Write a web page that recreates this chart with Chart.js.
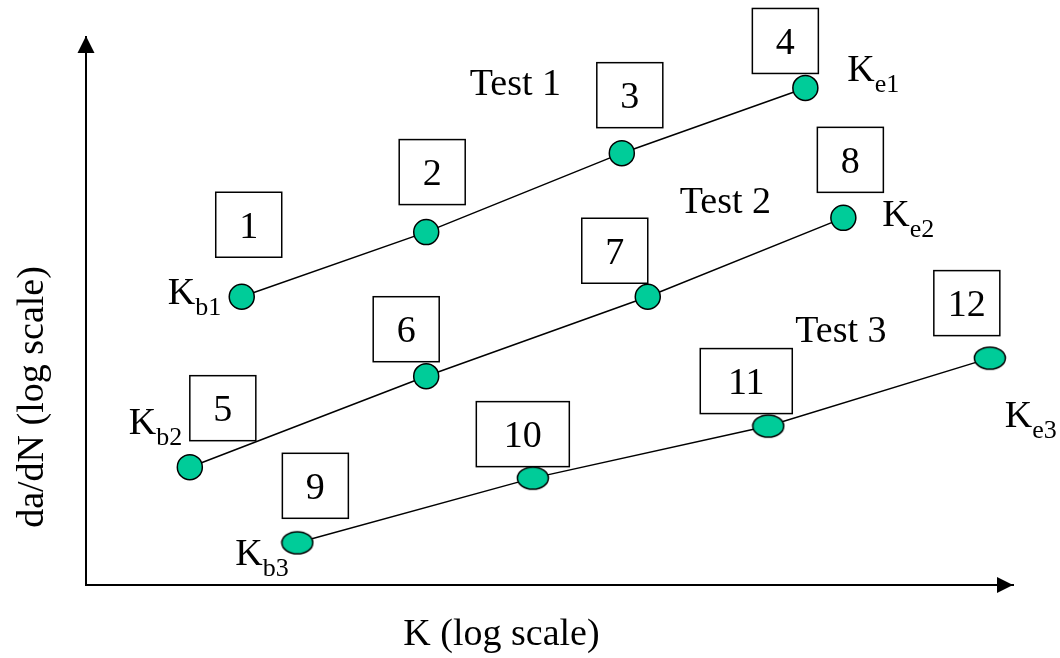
<!DOCTYPE html>
<html>
<head>
  <title>da/dN vs K tests</title>
  <script src="https://cdn.jsdelivr.net/npm/chart.js"></script>
  <style>
    body { margin: 0; background: #fff; }
    #wrap { width: 1060px; height: 658px; }
  </style>
</head>
<body>
  <div id="wrap"><canvas id="crackChart" width="1060" height="658"></canvas></div>

  <script>
    // schematic values, axes are log K vs log da/dN (0-100 of axis length)
    const seriesNames = ['Test 1', 'Test 2', 'Test 3'];
    const test1K = [16.8, 36.7, 57.8, 77.6];
    const test1Rate = [52.6, 64.4, 78.8, 90.7];
    const test2K = [11.2, 36.7, 60.6, 81.7];
    const test2Rate = [21.5, 38.1, 52.6, 67.0];
    const test3K = [22.8, 48.2, 73.6, 97.5];
    const test3Rate = [7.7, 19.5, 29.0, 41.4];
    const pointNumbers = ['1', '2', '3', '4', '5', '6', '7', '8', '9', '10', '11', '12'];
    const beginSubs = ['b1', 'b2', 'b3'];
    const endSubs = ['e1', 'e2', 'e3'];
    const xTitle = 'K (log scale)';
    const yTitle = 'da/dN (log scale)';

    const GREEN = '#00CC99';
    const FONT = '"Liberation Serif", "Times New Roman", serif';

    // layout of annotations (pixel offsets from the point they belong to)
    const boxOffsets = [[7, -72], [6, -60], [8, -58], [-20, -47], [33, -59], [-20, -47],
                        [-33, -46], [7, -58], [18, -57], [-10, -44], [-22, -45], [-23, -55]];
    const boxWidths = [66, 66, 66, 66, 66, 66, 66, 66, 66, 93, 92, 66];
    const beginOffsets = [[-74, 7], [-61, -33], [-62, 22]];
    const endOffsets = [[42, -7], [39, 8], [15, 69]];
    const testOffsets = [[-152, -58], [32, -84], [27, -84]];

    // ellipse marker for test 3
    const ell = document.createElement('canvas');
    ell.width = 34; ell.height = 26;
    const ec = ell.getContext('2d');
    ec.beginPath();
    ec.ellipse(17, 13, 15.5, 11, 0, 0, Math.PI * 2);
    ec.fillStyle = GREEN;
    ec.fill();
    ec.lineWidth = 1.5;
    ec.strokeStyle = '#000';
    ec.stroke();

    function toPoints(xs, ys) {
      return xs.map((x, i) => ({ x: x, y: ys[i] }));
    }

    function makeSet(label, xs, ys, style) {
      return {
        label: label,
        data: toPoints(xs, ys),
        showLine: true,
        borderColor: '#000',
        borderWidth: 1.5,
        pointStyle: style,
        pointRadius: 12.5,
        pointBackgroundColor: GREEN,
        pointBorderColor: '#000',
        pointBorderWidth: 1.5
      };
    }

    function subLabel(ctx, x, y, sub) {
      ctx.font = '38px ' + FONT;
      ctx.textAlign = 'left';
      ctx.textBaseline = 'alphabetic';
      ctx.fillText('K', x, y);
      const w = ctx.measureText('K').width;
      ctx.font = '26px ' + FONT;
      ctx.fillText(sub, x + w, y + 11);
    }

    const annotations = {
      id: 'annotations',
      beforeDatasetsDraw(chart) {
        const ctx = chart.ctx;
        ctx.save();
        let n = 0;
        chart.data.datasets.forEach((ds, di) => {
          const meta = chart.getDatasetMeta(di);
          meta.data.forEach(pt => {
            const [dx, dy] = boxOffsets[n];
            const w = boxWidths[n], h = 65;
            const cx = pt.x + dx, cy = pt.y + dy;
            ctx.fillStyle = '#fff';
            ctx.fillRect(cx - w / 2, cy - h / 2, w, h);
            ctx.lineWidth = 1.5;
            ctx.strokeStyle = '#000';
            ctx.strokeRect(cx - w / 2, cy - h / 2, w, h);
            ctx.fillStyle = '#000';
            ctx.font = '38px ' + FONT;
            ctx.textAlign = 'center';
            ctx.textBaseline = 'alphabetic';
            ctx.fillText(pointNumbers[n], cx, cy + 13);
            n++;
          });
        });
        ctx.restore();
      },
      afterDraw(chart) {
        const ctx = chart.ctx;
        const area = chart.chartArea;
        ctx.save();
        ctx.fillStyle = '#000';

        // arrow heads on the axes
        ctx.beginPath();
        ctx.moveTo(area.left, area.top - 1);
        ctx.lineTo(area.left - 8.5, area.top + 16);
        ctx.lineTo(area.left + 8.5, area.top + 16);
        ctx.closePath();
        ctx.fill();
        ctx.beginPath();
        ctx.moveTo(area.right, area.bottom);
        ctx.lineTo(area.right - 16, area.bottom - 8);
        ctx.lineTo(area.right - 16, area.bottom + 8);
        ctx.closePath();
        ctx.fill();

        // K labels and test names
        chart.data.datasets.forEach((ds, di) => {
          const pts = chart.getDatasetMeta(di).data;
          const first = pts[0], last = pts[pts.length - 1], third = pts[2];
          subLabel(ctx, first.x + beginOffsets[di][0], first.y + beginOffsets[di][1], beginSubs[di]);
          subLabel(ctx, last.x + endOffsets[di][0], last.y + endOffsets[di][1], endSubs[di]);
          ctx.font = '38px ' + FONT;
          ctx.textAlign = 'left';
          ctx.fillText(seriesNames[di], third.x + testOffsets[di][0], third.y + testOffsets[di][1]);
        });

        // axis titles
        ctx.font = '38px ' + FONT;
        ctx.textAlign = 'center';
        ctx.textBaseline = 'alphabetic';
        ctx.fillText(xTitle, (area.left + area.right) / 2 - 48, area.bottom + 60);
        ctx.translate(43, 397);
        ctx.rotate(-Math.PI / 2);
        ctx.fillText(yTitle, 0, 0);
        ctx.restore();
      }
    };

    const ctx = document.getElementById('crackChart').getContext('2d');
    new Chart(ctx, {
      type: 'scatter',
      data: {
        datasets: [
          makeSet(seriesNames[0], test1K, test1Rate, 'circle'),
          makeSet(seriesNames[1], test2K, test2Rate, 'circle'),
          makeSet(seriesNames[2], test3K, test3Rate, ell)
        ]
      },
      options: {
        responsive: false,
        animation: false,
        devicePixelRatio: 1,
        layout: { padding: { left: 86, top: 37, right: 47, bottom: 73 } },
        plugins: {
          legend: { display: false },
          tooltip: { enabled: false }
        },
        scales: {
          x: {
            type: 'linear', min: 0, max: 100,
            grid: { display: false, drawTicks: false },
            ticks: { display: false },
            border: { display: true, color: '#000', width: 2 }
          },
          y: {
            type: 'linear', min: 0, max: 100,
            grid: { display: false, drawTicks: false },
            ticks: { display: false },
            border: { display: true, color: '#000', width: 2 }
          }
        }
      },
      plugins: [annotations]
    });
  </script>
</body>
</html>
